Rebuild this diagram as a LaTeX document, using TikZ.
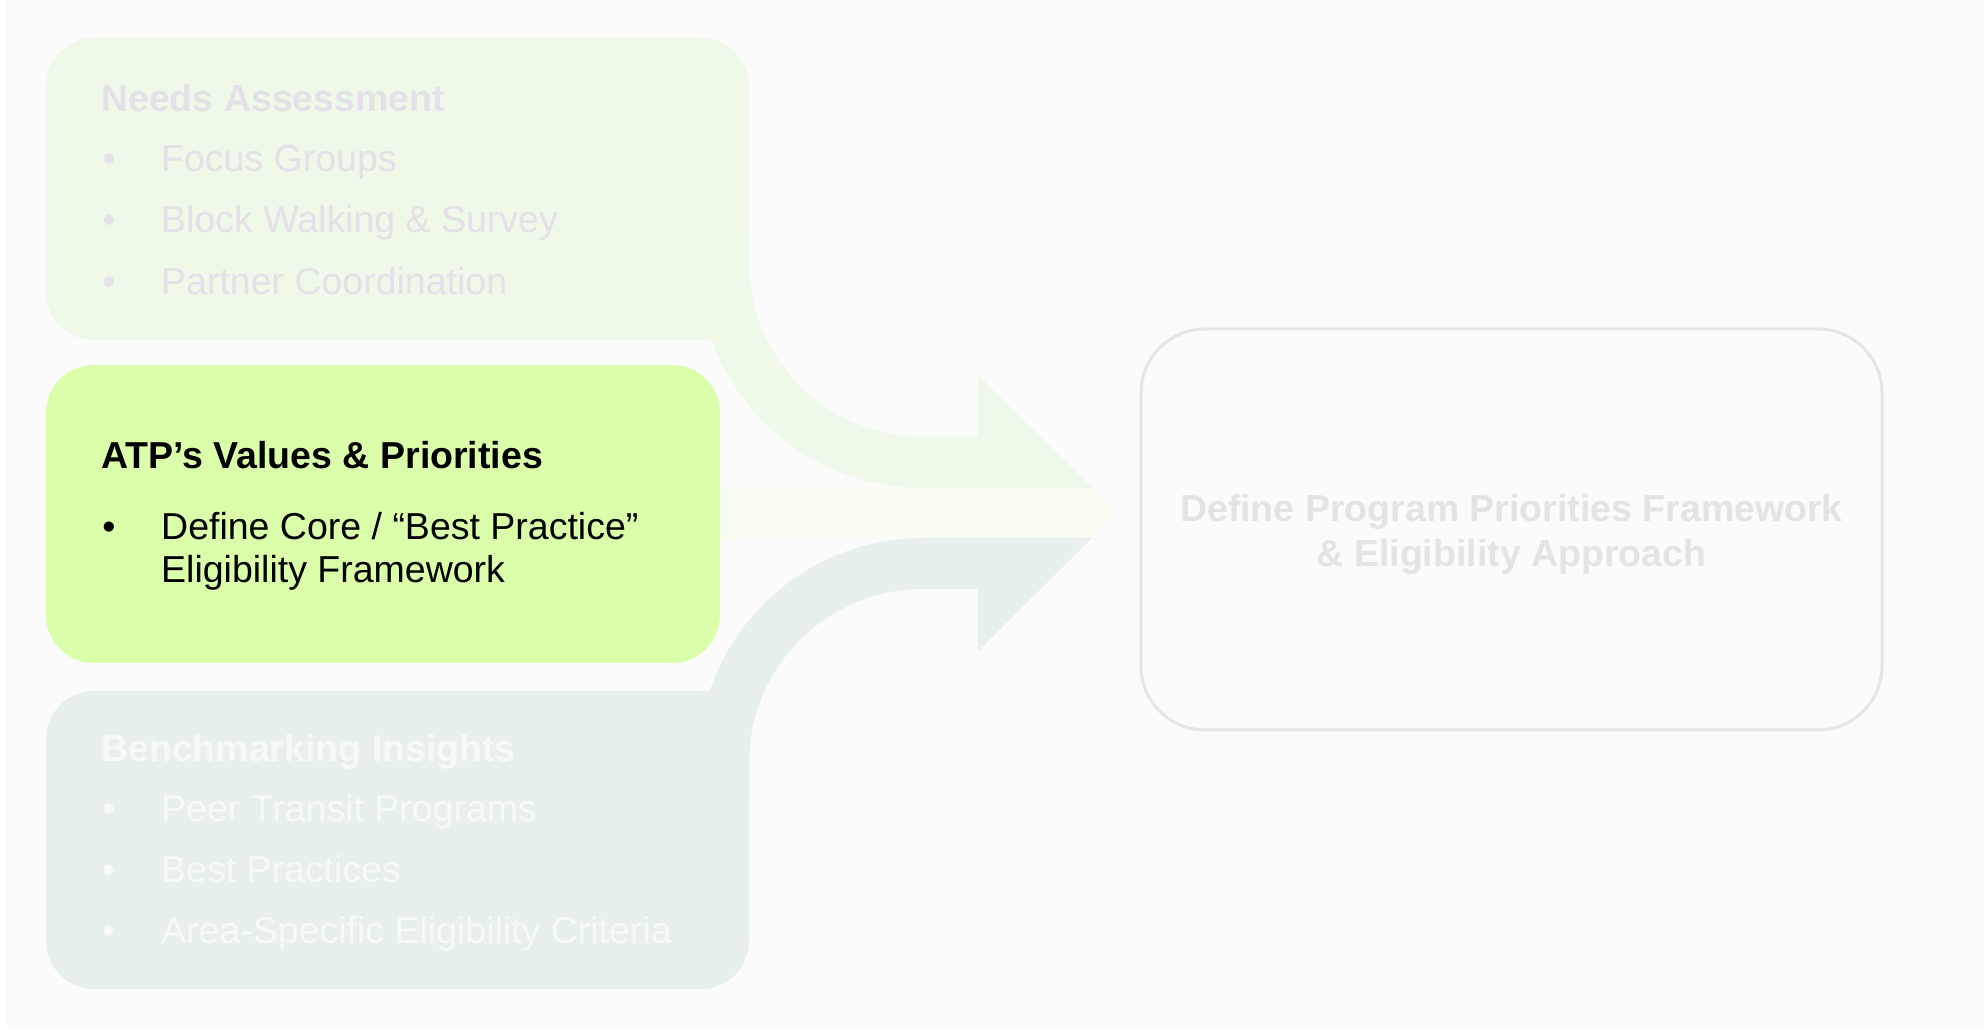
\documentclass[tikz,border=0pt]{standalone}
\usepackage{fontspec}
\setmainfont{Liberation Sans}
\definecolor{pagebg}{HTML}{FBFBFB}
\definecolor{needsfill}{HTML}{EFF9EA}
\definecolor{needstext}{HTML}{E4E1E8}
\definecolor{valuesfill}{HTML}{DAFEAA}
\definecolor{valuesband}{HTML}{F8FCF2}
\definecolor{benchfill}{HTML}{E7F0EC}
\definecolor{benchtext}{HTML}{F6F9F7}
\definecolor{goalline}{HTML}{E6E6E6}
\definecolor{goaltext}{HTML}{E4E4E4}
\begin{document}
\begin{tikzpicture}[x=1pt,y=1pt,
  txt/.style={inner sep=0pt, anchor=base west, font=\fontsize{37.5}{44}\selectfont},
  head/.style={txt, font=\fontsize{37.5}{44}\selectfont\bfseries},
  dot/.style={inner sep=0pt, anchor=base, font=\fontsize{37.5}{44}\selectfont},
  card/.style={rounded corners=48pt},
]
% page
\fill[white] (0,0) rectangle (1984,1030);
\useasboundingbox (0,0) rectangle (1984,1030);
\fill[pagebg] (6,2) rectangle (1984,1029);

% block arrows converging on the outcome box
\fill[needsfill] (698,800) -- (698,767) arc[start angle=180,end angle=270,radius=225]
  -- (1092,542) -- (978,655) -- (978,593) -- (923,593)
  arc[start angle=270,end angle=180,radius=174] -- (749,800) -- cycle;
\fill[valuesband] (700,542) -- (1092,542) -- (1118,517) -- (1092,492) -- (700,492) -- cycle;
\fill[benchfill] (698,230) -- (698,267) arc[start angle=180,end angle=90,radius=225]
  -- (1092,492) -- (978,379) -- (978,441) -- (923,441)
  arc[start angle=90,end angle=180,radius=174] -- (749,230) -- cycle;

% input boxes
\fill[needsfill, card] (46,690) rectangle (749,992);
\fill[valuesfill, card] (46,367) rectangle (720,665);
\fill[benchfill, card] (46,41) rectangle (749,339);

% outcome box
\draw[goalline, line width=3pt, fill=pagebg, rounded corners=64pt] (1141,300) rectangle (1882,701);

% Needs Assessment
\node[head, text=needstext] (na) at (101,918) {Needs Assessment};
\node[dot, text=needstext] (na1d) at (109,858) {\textbullet};
\node[txt, text=needstext] (na1) at (161,858) {Focus Groups};
\node[dot, text=needstext] (na2d) at (109,797) {\textbullet};
\node[txt, text=needstext] (na2) at (161,797) {Block Walking \& Survey};
\node[dot, text=needstext] (na3d) at (109,735) {\textbullet};
\node[txt, text=needstext] (na3) at (161,735) {Partner Coordination};

% ATP's Values & Priorities
\node[head, text=black] (vp) at (101,561) {ATP’s Values \& Priorities};
\node[dot, text=black] (vp1d) at (109,490) {\textbullet};
\node[txt, text=black] (vp1) at (161,490) {Define Core / “Best Practice”};
\node[txt, text=black] (vp1b) at (161,447) {Eligibility Framework};

% Benchmarking Insights
\node[head, text=benchtext] (bi) at (101,268) {Benchmarking Insights};
\node[dot, text=benchtext] (bi1d) at (109,208) {\textbullet};
\node[txt, text=benchtext] (bi1) at (161,208) {Peer Transit Programs};
\node[dot, text=benchtext] (bi2d) at (109,147) {\textbullet};
\node[txt, text=benchtext] (bi2) at (161,147) {Best Practices};
\node[dot, text=benchtext] (bi3d) at (109,86) {\textbullet};
\node[txt, text=benchtext] (bi3) at (161,86) {Area-Specific Eligibility Criteria};

% outcome
\node[inner sep=0pt, anchor=base, text=goaltext, font=\fontsize{37.5}{44}\selectfont\bfseries] (g1) at (1511.5,508) {Define Program Priorities Framework};
\node[inner sep=0pt, anchor=base, text=goaltext, font=\fontsize{37.5}{44}\selectfont\bfseries] (g2) at (1511.5,463) {\& Eligibility Approach};
\end{tikzpicture}
\end{document}
